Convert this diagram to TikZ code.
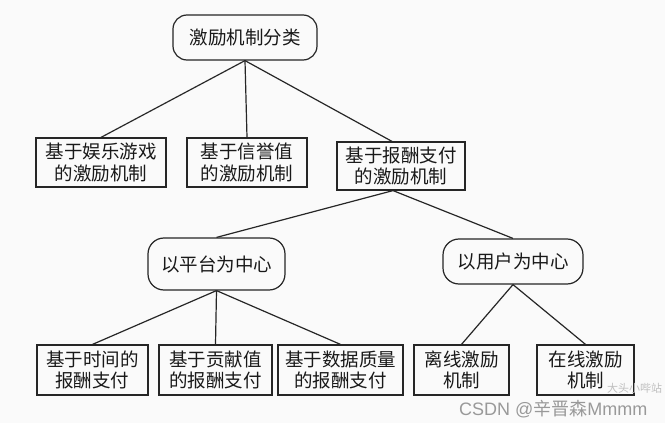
\documentclass[tikz,border=0pt]{standalone}
\usepackage{fontspec}
\setmainfont{Noto Sans CJK SC}
\newfontfamily\cjkfont{Noto Sans CJK SC}
\newfontfamily\wmfont{Liberation Sans}
\begin{document}
\begin{tikzpicture}[x=1pt,y=-1pt,
  box/.style={draw=black!85, line width=1.2pt, align=center, inner sep=0pt,
    font=\fontsize{18.5}{21.5}\selectfont, text=black!90},
  rbox/.style={box, rounded corners=14pt},
  link/.style={draw=black!85, line width=1.2pt},
  wm/.style={text=black!40, inner sep=0pt}]
\fill[black!2] (0,0) rectangle (665,423);
\useasboundingbox (0,0) rectangle (665,423);
% level 1
\node[rbox, minimum width=144pt, minimum height=45pt] (top) at (245,37.5) {激励机制分类};
% level 2
\node[box, minimum width=130pt, minimum height=49pt] (a1) at (101,162.5) {基于娱乐游戏\\的激励机制};
\node[box, minimum width=120pt, minimum height=49pt] (a2) at (247,162.5) {基于信誉值\\的激励机制};
\node[box, minimum width=128pt, minimum height=48pt] (a3) at (401,166) {基于报酬支付\\的激励机制};
% level 3
\node[rbox, rounded corners=16pt, minimum width=137pt, minimum height=52pt] (b1) at (216.5,264) {以平台为中心};
\node[rbox, rounded corners=16pt, minimum width=140pt, minimum height=45pt] (b2) at (513,261.5) {以用户为中心};
% level 4
\node[box, minimum width=111pt, minimum height=50pt] (c1) at (92.5,370) {基于时间的\\报酬支付};
\node[box, minimum width=113pt, minimum height=50pt] (c2) at (215.5,370) {基于贡献值\\的报酬支付};
\node[box, minimum width=125pt, minimum height=50pt] (c3) at (340.5,370) {基于数据质量\\的报酬支付};
\node[box, minimum width=95pt, minimum height=50pt] (c4) at (461.5,370) {离线激励\\机制};
\node[box, minimum width=97pt, minimum height=50pt] (c5) at (585.5,370) {在线激励\\机制};
% connectors
\draw[link] (top.south) -- (a1.north);
\draw[link] (top.south) -- (a2.north);
\draw[link] (top.south) -- ([xshift=-9pt]a3.north);
\draw[link] ([xshift=-8pt]a3.south) -- (b1.north);
\draw[link] ([xshift=-8pt]a3.south) -- (b2.north);
\draw[link] (b1.south) -- (c1.north);
\draw[link] (b1.south) -- (c2.north);
\draw[link] (b1.south) -- (c3.north);
\draw[link] (b2.south) -- (c4.north);
\draw[link] (b2.south) -- (c5.north);
% watermark
\node[wm, text=black!25, anchor=base west, font=\cjkfont\fontsize{11}{11}\selectfont] (wm2) at (607,392) {大头小哔站};
\node[wm, anchor=base west, font=\wmfont\fontsize{18}{18}\selectfont] (wm1) at (459,415) {CSDN @{\cjkfont 辛晋森}Mmmm};
\end{tikzpicture}
\end{document}
